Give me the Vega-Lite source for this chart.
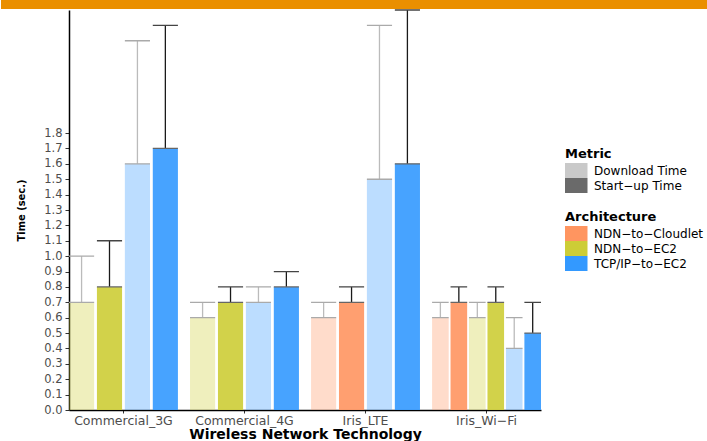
{
  "$schema": "https://vega.github.io/schema/vega-lite/v6.json",
  "padding": 0,
  "background": "white",
  "width": 472,
  "height": 400,
  "config": {
    "view": {"stroke": null},
    "font": "DejaVu Sans",
    "axis": {"grid": false},
    "axisY": {
      "domainColor": "black",
      "domainWidth": 1.5,
      "tickColor": "#333333",
      "tickSize": 4,
      "labelColor": "#4D4D4D",
      "labelFont": "DejaVu Sans",
      "labelFontSize": 11.5,
      "labelPadding": 3,
      "labelOverlap": false,
      "labelSeparation": 0,
      "titleFont": "DejaVu Sans Condensed, Liberation Sans, Arial",
      "titleFontSize": 11,
      "titleFontWeight": "bold",
      "titleColor": "black",
      "titlePadding": 17
    },
    "axisX": {
      "labelAngle": 0,
      "labelFont": "DejaVu Sans",
      "labelFontSize": 12.5,
      "labelColor": "#4D4D4D",
      "labelPadding": 1,
      "tickSize": 3,
      "tickColor": "#333333",
      "domainColor": "black",
      "domainWidth": 1.5,
      "titleFont": "DejaVu Sans",
      "titleFontSize": 14,
      "titleFontWeight": "bold",
      "titleColor": "black",
      "titlePadding": 1
    },
    "legend": {
      "orient": "none",
      "symbolType": "M-1,-1H2V1H-1Z",
      "symbolSize": 225,
      "symbolStrokeWidth": 0,
      "symbolBaseFillColor": "#5A5A5A",
      "labelOffset": 14,
      "labelFont": "DejaVu Sans",
      "labelFontSize": 12,
      "labelColor": "black",
      "titleFont": "DejaVu Sans",
      "titleFontSize": 13,
      "titleFontWeight": "bold",
      "titleColor": "black",
      "titlePadding": 2,
      "rowPadding": 0
    }
  },
  "layer": [
    {
      "data": {
        "values": [
          {"Technology": "Commercial_3G", "Architecture": "NDN-to-EC2", "Metric": "Download Time", "Time": 0.7, "Upper": 1.0},
          {"Technology": "Commercial_3G", "Architecture": "NDN-to-EC2", "Metric": "Start-up Time", "Time": 0.8, "Upper": 1.1},
          {"Technology": "Commercial_3G", "Architecture": "TCP/IP-to-EC2", "Metric": "Download Time", "Time": 1.6, "Upper": 2.4},
          {"Technology": "Commercial_3G", "Architecture": "TCP/IP-to-EC2", "Metric": "Start-up Time", "Time": 1.7, "Upper": 2.5},
          {"Technology": "Commercial_4G", "Architecture": "NDN-to-EC2", "Metric": "Download Time", "Time": 0.6, "Upper": 0.7},
          {"Technology": "Commercial_4G", "Architecture": "NDN-to-EC2", "Metric": "Start-up Time", "Time": 0.7, "Upper": 0.8},
          {"Technology": "Commercial_4G", "Architecture": "TCP/IP-to-EC2", "Metric": "Download Time", "Time": 0.7, "Upper": 0.8},
          {"Technology": "Commercial_4G", "Architecture": "TCP/IP-to-EC2", "Metric": "Start-up Time", "Time": 0.8, "Upper": 0.9},
          {"Technology": "Iris_LTE", "Architecture": "NDN-to-Cloudlet", "Metric": "Download Time", "Time": 0.6, "Upper": 0.7},
          {"Technology": "Iris_LTE", "Architecture": "NDN-to-Cloudlet", "Metric": "Start-up Time", "Time": 0.7, "Upper": 0.8},
          {"Technology": "Iris_LTE", "Architecture": "TCP/IP-to-EC2", "Metric": "Download Time", "Time": 1.5, "Upper": 2.5},
          {"Technology": "Iris_LTE", "Architecture": "TCP/IP-to-EC2", "Metric": "Start-up Time", "Time": 1.6, "Upper": 2.6},
          {"Technology": "Iris_Wi-Fi", "Architecture": "NDN-to-Cloudlet", "Metric": "Download Time", "Time": 0.6, "Upper": 0.7},
          {"Technology": "Iris_Wi-Fi", "Architecture": "NDN-to-Cloudlet", "Metric": "Start-up Time", "Time": 0.7, "Upper": 0.8},
          {"Technology": "Iris_Wi-Fi", "Architecture": "NDN-to-EC2", "Metric": "Download Time", "Time": 0.6, "Upper": 0.7},
          {"Technology": "Iris_Wi-Fi", "Architecture": "NDN-to-EC2", "Metric": "Start-up Time", "Time": 0.7, "Upper": 0.8},
          {"Technology": "Iris_Wi-Fi", "Architecture": "TCP/IP-to-EC2", "Metric": "Download Time", "Time": 0.4, "Upper": 0.6},
          {"Technology": "Iris_Wi-Fi", "Architecture": "TCP/IP-to-EC2", "Metric": "Start-up Time", "Time": 0.5, "Upper": 0.7}
        ]
      },
      "transform": [{"calculate": "datum.Architecture + ' / ' + datum.Metric", "as": "Series"}],
      "encoding": {
        "x": {
          "field": "Technology",
          "type": "nominal",
          "title": "Wireless Network Technology",
          "scale": {"domain": ["Commercial_3G", "Commercial_4G", "Iris_LTE", "Iris_Wi-Fi"], "paddingInner": 0.1, "paddingOuter": 0},
          "axis": {"labelExpr": "replace(datum.label, regexp('-', 'g'), '\u2212')"}
        },
        "xOffset": {"field": "Series", "type": "nominal", "scale": {"paddingInner": 0.1, "paddingOuter": 0}},
        "y": {
          "field": "Time",
          "type": "quantitative",
          "title": "Time (sec.)",
          "scale": {"domain": [0, 2.6], "nice": false},
          "axis": {"values": [0, 0.1, 0.2, 0.3, 0.4, 0.5, 0.6, 0.7, 0.8, 0.9, 1.0, 1.1, 1.2, 1.3, 1.4, 1.5, 1.6, 1.7, 1.8], "format": ".1f", "labelOverlap": false}
        }
      },
      "layer": [
        {
          "transform": [{"filter": {"field": "Technology", "oneOf": ["Commercial_3G", "Commercial_4G"]}}],
          "layer": [
            {
              "mark": {"type": "bar"},
              "encoding": {
                "color": {"field": "Architecture", "type": "nominal", "scale": {"domain": ["NDN-to-Cloudlet", "NDN-to-EC2", "TCP/IP-to-EC2"], "range": ["#FF9560", "#CDCD36", "#3399FF"]}, "legend": {"title": "Architecture", "legendX": 496, "legendY": 201, "symbolOpacity": 1, "labelExpr": "replace(datum.label, regexp('-', 'g'), '\u2212')"}},
                "opacity": {"field": "Metric", "type": "nominal", "scale": {"domain": ["Download Time", "Start-up Time"], "range": [0.33, 0.9]}, "legend": {"title": "Metric", "legendX": 496, "legendY": 138, "symbolFillColor": "#5A5A5A", "labelExpr": "replace(datum.label, regexp('-', 'g'), '\u2212')"}}
              }
            },
            {
              "mark": {"type": "rule", "strokeWidth": 1.3},
              "encoding": {
                "y2": {"field": "Upper"},
                "stroke": {"condition": {"test": "datum.Metric === 'Download Time'", "value": "#BBBBBB"}, "value": "#1A1A1A"}
              }
            },
            {
              "mark": {"type": "bar", "fillOpacity": 0, "strokeWidth": 1.3},
              "encoding": {
                "y": {"field": "Upper", "type": "quantitative", "title": "Time (sec.)", "axis": {"values": [0, 0.1, 0.2, 0.3, 0.4, 0.5, 0.6, 0.7, 0.8, 0.9, 1.0, 1.1, 1.2, 1.3, 1.4, 1.5, 1.6, 1.7, 1.8], "format": ".1f", "labelOverlap": false}},
                "y2": {"field": "Upper"},
                "stroke": {"condition": {"test": "datum.Metric === 'Download Time'", "value": "#AAAAAA"}, "value": "#444444"}
              }
            },
            {
              "mark": {"type": "bar", "fillOpacity": 0, "strokeWidth": 1.3},
              "encoding": {
                "y2": {"field": "Time"},
                "stroke": {"condition": {"test": "datum.Metric === 'Download Time'", "value": "#AAAAAA"}, "value": "#666666"}
              }
            }
          ]
        },
        {
          "transform": [{"filter": {"field": "Technology", "equal": "Iris_LTE"}}],
          "layer": [
            {
              "mark": {"type": "bar"},
              "encoding": {
                "color": {"field": "Architecture", "type": "nominal"},
                "opacity": {"field": "Metric", "type": "nominal"}
              }
            },
            {
              "mark": {"type": "rule", "strokeWidth": 1.3},
              "encoding": {
                "y2": {"field": "Upper"},
                "stroke": {"condition": {"test": "datum.Metric === 'Download Time'", "value": "#BBBBBB"}, "value": "#1A1A1A"}
              }
            },
            {
              "mark": {"type": "bar", "fillOpacity": 0, "strokeWidth": 1.3},
              "encoding": {
                "y": {"field": "Upper", "type": "quantitative", "title": "Time (sec.)", "axis": {"values": [0, 0.1, 0.2, 0.3, 0.4, 0.5, 0.6, 0.7, 0.8, 0.9, 1.0, 1.1, 1.2, 1.3, 1.4, 1.5, 1.6, 1.7, 1.8], "format": ".1f", "labelOverlap": false}},
                "y2": {"field": "Upper"},
                "stroke": {"condition": {"test": "datum.Metric === 'Download Time'", "value": "#AAAAAA"}, "value": "#444444"}
              }
            },
            {
              "mark": {"type": "bar", "fillOpacity": 0, "strokeWidth": 1.3},
              "encoding": {
                "y2": {"field": "Time"},
                "stroke": {"condition": {"test": "datum.Metric === 'Download Time'", "value": "#AAAAAA"}, "value": "#666666"}
              }
            }
          ]
        },
        {
          "transform": [{"filter": {"field": "Technology", "equal": "Iris_Wi-Fi"}}],
          "layer": [
            {
              "mark": {"type": "bar"},
              "encoding": {
                "color": {"field": "Architecture", "type": "nominal"},
                "opacity": {"field": "Metric", "type": "nominal"}
              }
            },
            {
              "mark": {"type": "rule", "strokeWidth": 1.3},
              "encoding": {
                "y2": {"field": "Upper"},
                "stroke": {"condition": {"test": "datum.Metric === 'Download Time'", "value": "#BBBBBB"}, "value": "#1A1A1A"}
              }
            },
            {
              "mark": {"type": "bar", "fillOpacity": 0, "strokeWidth": 1.3},
              "encoding": {
                "y": {"field": "Upper", "type": "quantitative", "title": "Time (sec.)", "axis": {"values": [0, 0.1, 0.2, 0.3, 0.4, 0.5, 0.6, 0.7, 0.8, 0.9, 1.0, 1.1, 1.2, 1.3, 1.4, 1.5, 1.6, 1.7, 1.8], "format": ".1f", "labelOverlap": false}},
                "y2": {"field": "Upper"},
                "stroke": {"condition": {"test": "datum.Metric === 'Download Time'", "value": "#AAAAAA"}, "value": "#444444"}
              }
            },
            {
              "mark": {"type": "bar", "fillOpacity": 0, "strokeWidth": 1.3},
              "encoding": {
                "y2": {"field": "Time"},
                "stroke": {"condition": {"test": "datum.Metric === 'Download Time'", "value": "#AAAAAA"}, "value": "#666666"}
              }
            }
          ]
        }
      ],
      "resolve": {"scale": {"xOffset": "independent"}}
    },
    {
      "data": {"values": [{}]},
      "mark": {"type": "rect", "color": "#EA8F00"},
      "encoding": {
        "x": {"datum": -0.14407, "type": "quantitative", "scale": {"domain": [0, 1], "nice": false, "zero": false}, "axis": null},
        "x2": {"datum": 1.35381},
        "y": {"datum": 2.665, "type": "quantitative", "title": "Time (sec.)", "axis": {"values": [0, 0.1, 0.2, 0.3, 0.4, 0.5, 0.6, 0.7, 0.8, 0.9, 1.0, 1.1, 1.2, 1.3, 1.4, 1.5, 1.6, 1.7, 1.8], "format": ".1f", "labelOverlap": false}},
        "y2": {"datum": 2.6065}
      }
    }
  ],
  "resolve": {"scale": {"x": "independent"}}
}
